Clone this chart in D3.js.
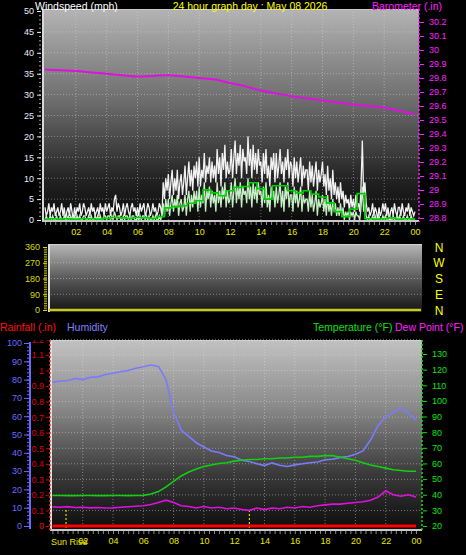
<!DOCTYPE html>
<html><head><meta charset="utf-8">
<script src="https://cdn.jsdelivr.net/npm/d3@7"></script>
<style>body{margin:0;background:#000}svg{display:block;font-family:"Liberation Sans",Arial,sans-serif}</style>
</head><body><svg id="c" width="466" height="555"></svg>
<script>
// ---------------- DATA ----------------
const hourTicks = [2,4,6,8,10,12,14,16,18,20,22,24];
const hourLabels = ["02","04","06","08","10","12","14","16","18","20","22","00"];
const windTicks = [0,5,10,15,20,25,30,35,40,45,50];
const baroTicks = [28.8,28.9,29,29.1,29.2,29.3,29.4,29.5,29.6,29.7,29.8,29.9,30,30.1,30.2];
const dirTicks = [0,90,180,270,360];
const compass = ["N","E","S","W","N"];
const humTicks = [0,10,20,30,40,50,60,70,80,90,100];
const rainTicks = [0,0.1,0.2,0.3,0.4,0.5,0.6,0.7,0.8,0.9,1,1.1,1.2];
const tempTicks = [20,30,40,50,60,70,80,90,100,110,120,130];
const sunEvents = [0.9, 13.0];

// wind gust (mph), 5-minute samples 00:00 .. 24:00
const gust = [
 3,1,2,4,1,3,2,4,1,2,3,1,  2,4,1,3,0,2,3,1,4,2,0,3,  1,3,2,4,1,2,4,3,1,2,3,1,  4,2,3,1,2,3,1,4,2,3,1,4,
 2,3,4,1,3,2,5,6,2,4,3,1,  2,4,1,3,4,2,1,3,4,2,3,1,  3,1,4,2,3,4,1,2,4,3,1,2,  4,2,3,1,2,4,3,1,9,5,10,7,
 11,5,9,12,6,10,7,12,5,9,11,6,  9,13,6,10,14,8,12,7,13,10,14,8,  15,8,12,10,16,9,13,11,15,9,14,10,  13,9,17,11,15,8,16,12,18,10,14,11,
 12,17,10,15,19,11,16,13,18,10,17,14,  15,11,20,13,17,10,18,12,16,11,17,13,  14,9,16,11,17,10,13,8,15,12,16,9,  16,10,13,17,11,14,9,15,12,17,10,14,
 13,8,15,10,14,9,12,15,8,13,10,12,  12,7,14,9,13,8,11,14,7,12,9,11,  14,8,11,6,13,7,10,5,12,6,9,5,  8,4,9,5,7,3,6,4,5,2,6,3,
 5,2,6,3,4,2,8,19,6,9,4,2,  3,1,2,4,1,3,2,0,3,1,2,4,  2,4,1,3,0,2,3,1,4,2,1,3,  3,1,4,2,1,3,2,4,1,3,2,1,  2];
// wind average (mph), 5-minute samples
const avgWind = [
 0,1,0,0,1,0,1,0,0,1,0,0,  1,0,0,1,0,0,1,0,1,0,0,1,  0,1,0,1,0,0,1,1,0,0,1,0,  1,0,0,1,0,1,0,1,0,0,1,1,
 0,1,1,0,1,0,2,1,0,1,1,0,  0,1,0,1,1,0,1,0,1,1,0,0,  1,0,1,0,1,1,0,1,0,1,0,0,  1,0,1,0,0,1,0,1,4,1,5,2,
 5,1,4,6,2,5,3,6,1,4,5,2,  3,6,1,5,7,2,6,3,7,4,7,2,  8,3,6,4,9,2,7,5,8,3,7,4,  6,2,9,4,7,3,8,5,9,3,7,4,
 5,9,3,7,10,4,8,5,9,3,8,6,  7,4,10,5,8,3,9,5,8,4,9,6,  7,3,8,4,9,3,6,2,8,5,7,3,  8,4,6,9,3,7,2,8,5,9,3,6,
 6,2,8,4,7,3,5,8,2,6,4,5,  5,2,7,3,6,2,4,7,1,5,3,4,  6,2,5,1,6,2,4,1,5,2,4,1,  3,1,4,1,3,0,2,1,2,0,2,1,
 2,0,2,1,1,0,3,8,2,4,1,0,  1,0,0,1,0,1,0,0,1,0,0,1,  0,1,0,0,1,0,0,1,0,0,1,0,  1,0,0,1,0,0,1,0,0,1,0,0,  0];
// smoothed average wind (mph), half-hourly
const smoothWind = [0.2,0.3,0.2,0.3,0.2,0.3,0.3,0.2,0.4,0.6,0.5,0.4,0.6,0.5,0.4,0.8,
 2.9,3.2,3.4,4.0,4.6,7.2,6.5,5.8,7.0,7.8,8.0,8.9,7.5,5.0,8.2,8.2,7.0,6.5,7.0,6.2,5.5,4.1,
 2.0,0.8,2.6,6.3,0.3,0.2,0.3,0.5,0.2,0.3,0.2];
// barometer (in), hourly
const baro = [29.86,29.855,29.85,29.84,29.83,29.82,29.81,29.815,29.82,29.81,29.80,29.79,29.765,
 29.74,29.71,29.69,29.67,29.655,29.64,29.625,29.61,29.60,29.59,29.565,29.54];
// wind direction (deg), hourly
const windDir = [0,0,0,0,0,0,0,0,0,0,0,0,0,0,0,0,0,0,0,0,0,0,0,0,0];
// humidity (%), half-hourly
const humidity = [78.5,79.2,79.5,80.6,80,81.2,81.5,82.8,83.5,84.3,85,86.2,87,88,87.2,80,62,52.5,49,45.5,43.2,41,
 40.2,38.5,37.8,36,35.2,34,33,34.5,33.2,32.5,33.4,34,34.6,35,36.2,36.5,37.5,38,39.2,41,47,55,59.5,62,64.5,61.5,58];
// temperature (F), half-hourly
const temperature = [39.5,39.5,39.4,39.4,39.5,39.5,39.4,39.4,39.5,39.5,39.4,39.5,39.6,40.5,42,45,48.5,52,
 54.5,56.5,58,59,60,60.5,61.5,62,62.5,62.5,63,63,63.5,63.5,64,64,64.5,64.5,65,65,64,63,62,60.5,59,58,57,56,55.5,55,55];
// dew point (F), half-hourly
const dewPoint = [32.2,32,32.4,31.8,32,31.6,31.8,31.5,31.6,32,32.3,32.6,33,33.8,35,36.5,35,33,32.5,31.5,32.5,
 31.5,32,31,31.5,30.5,30,31.5,30.5,31.5,31,32,31.5,32.5,32,33,33.5,34,34,34.5,35,35.5,36.5,38.5,42.5,40,39,40,38.5];
// rainfall (in), hourly
const rain = [0,0,0,0,0,0,0,0,0,0,0,0,0,0,0,0,0,0,0,0,0,0,0,0,0];

// ---------------- DRAW ----------------
const svg = d3.select("#c");
const defs = svg.append("defs");
function grad(id, stops){
  const g = defs.append("linearGradient").attr("id",id).attr("x1",0).attr("y1",0).attr("x2",0).attr("y2",1);
  stops.forEach(s=>g.append("stop").attr("offset",s[0]).attr("stop-color",s[1]));
}
grad("gTop",[[0,"#b4b4b4"],[0.45,"#6a6a6a"],[0.8,"#222"],[1,"#0a0a0a"]]);
grad("gMid",[[0,"#b8b8b8"],[0.5,"#5a5a5a"],[1,"#141414"]]);
grad("gBot",[[0,"#c2c2c2"],[0.35,"#8a8a8a"],[0.7,"#3a3a3a"],[1,"#0c0c0c"]]);

const FS = 9;
function styleAxis(g, color, fs){
  g.selectAll("path.domain").remove();
  g.selectAll("line").attr("stroke", color);
  g.selectAll("text").attr("fill", color).style("font-size",(fs||FS)+"px").style("font-family","'Liberation Sans',Arial,sans-serif");
}
const t5 = i => i/12, t30 = i => i/2, t60 = i => i;

// ===== TOP: wind + barometer =====
const xW = d3.scaleLinear([0,24],[45,415]);
const yW = d3.scaleLinear([0,50],[220,11]);
const yB = d3.scaleLinear([28.8,30.2],[218,22]);
const tp = {x0:42,x1:419,y0:9,y1:222};

svg.append("rect").attr("x",tp.x0).attr("y",tp.y0).attr("width",tp.x1-tp.x0).attr("height",tp.y1-tp.y0).attr("fill","url(#gTop)");
const gridTop = svg.append("g").attr("stroke","rgba(220,220,220,0.45)").attr("stroke-dasharray","1,2");
windTicks.slice(1,-1).forEach(v=>gridTop.append("line").attr("x1",tp.x0).attr("x2",tp.x1).attr("y1",yW(v)).attr("y2",yW(v)));
hourTicks.slice(0,-1).forEach(v=>gridTop.append("line").attr("y1",tp.y0).attr("y2",tp.y1).attr("x1",xW(v)).attr("x2",xW(v)));

const lineW5 = d3.line().x((d,i)=>xW(t5(i))).y(d=>yW(d));
svg.append("path").datum(gust).attr("d",lineW5).attr("fill","none").attr("stroke","#f2f2f2").attr("stroke-width",1.3);
svg.append("path").datum(avgWind).attr("d",lineW5).attr("fill","none").attr("stroke","#c4f0c4").attr("stroke-width",1.3);
svg.append("path").datum(smoothWind).attr("d",d3.line().x((d,i)=>xW(t30(i))).y(d=>yW(d)).curve(d3.curveStep)).attr("fill","none").attr("stroke","#00d000").attr("stroke-width",1.6);
svg.append("path").datum(baro).attr("d",d3.line().x((d,i)=>xW(t60(i))).y(d=>yB(d)).curve(d3.curveMonotoneX)).attr("fill","none").attr("stroke","#e010e0").attr("stroke-width",2);

svg.append("line").attr("x1",tp.x0+1).attr("x2",tp.x0+1).attr("y1",tp.y0).attr("y2",tp.y1).attr("stroke","#d8d8d8").attr("stroke-width",2);
svg.append("line").attr("x1",tp.x0).attr("x2",tp.x1).attr("y1",tp.y1-1).attr("y2",tp.y1-1).attr("stroke","#c8c8c8").attr("stroke-width",2);
svg.append("line").attr("x1",tp.x0).attr("x2",tp.x1).attr("y1",tp.y0+0.5).attr("y2",tp.y0+0.5).attr("stroke","#c8c8c8").attr("stroke-width",1);
svg.append("line").attr("x1",tp.x1).attr("x2",tp.x1).attr("y1",tp.y0).attr("y2",tp.y1).attr("stroke","#ff20ff").attr("stroke-width",1.5).attr("stroke-dasharray","2,2");

let g = svg.append("g").attr("transform",`translate(${tp.x0-1},0)`).call(d3.axisLeft(yW).tickValues(d3.range(0,50.1,1)).tickSize(2).tickFormat(""));
styleAxis(g,"#9a9a9a");
g = svg.append("g").attr("transform",`translate(${tp.x0-1},0)`).call(d3.axisLeft(yW).tickValues(windTicks).tickSize(4).tickPadding(3));
styleAxis(g,"#e4ecff");
g = svg.append("g").attr("transform",`translate(${tp.x1+1},0)`).call(d3.axisRight(yB).tickValues(baroTicks).tickSize(4).tickPadding(5).tickFormat(d=>String(+d.toFixed(1))));
styleAxis(g,"#ff20ff");
g = svg.append("g").attr("transform",`translate(0,${tp.y1})`).call(d3.axisBottom(xW).tickValues(d3.range(0,24.01,1/3)).tickSize(3).tickFormat(""));
styleAxis(g,"#8a8a8a");
g = svg.append("g").attr("transform",`translate(0,${tp.y1})`).call(d3.axisBottom(xW).tickValues(hourTicks).tickSize(0).tickPadding(7).tickFormat((d,i)=>hourLabels[i]));
styleAxis(g,"#e8e800");

const TF = "10.5px";
svg.append("text").attr("x",35).attr("y",10).attr("fill","#ffffff").style("font-size",TF).text("Windspeed (mph)");
svg.append("text").attr("x",250).attr("y",10).attr("text-anchor","middle").attr("fill","#ffff00").style("font-size",TF).text("24 hour graph day : May 08 2026");
svg.append("text").attr("x",372).attr("y",10).attr("fill","#ff20ff").style("font-size",TF).text("Barometer (.in)");

// ===== MIDDLE: wind direction =====
const mid = {x0:48,x1:422,y0:244,y1:312};
const xD = d3.scaleLinear([0,24],[mid.x0+1,mid.x1-1]);
const yD = d3.scaleLinear([0,360],[310,247]);
svg.append("rect").attr("x",mid.x0).attr("y",mid.y0).attr("width",mid.x1-mid.x0).attr("height",mid.y1-mid.y0).attr("fill","url(#gMid)");
const gridMid = svg.append("g").attr("stroke","rgba(230,230,230,0.45)").attr("stroke-dasharray","1,2");
[90,180,270].forEach(v=>gridMid.append("line").attr("x1",mid.x0).attr("x2",mid.x1).attr("y1",yD(v)).attr("y2",yD(v)));
svg.append("line").attr("x1",mid.x0+1).attr("x2",mid.x0+1).attr("y1",mid.y0).attr("y2",mid.y1).attr("stroke","#e0e0e0").attr("stroke-width",2);
svg.append("line").attr("x1",mid.x0).attr("x2",mid.x1).attr("y1",mid.y0+0.5).attr("y2",mid.y0+0.5).attr("stroke","#d0d0d0");
svg.append("path").datum(windDir).attr("d",d3.line().x((d,i)=>xD(i)).y(d=>yD(d))).attr("fill","none").attr("stroke","#c8c820").attr("stroke-width",2.5);
g = svg.append("g").attr("transform",`translate(${mid.x0-1},0)`).call(d3.axisLeft(yD).tickValues(d3.range(0,360.1,10)).tickSize(3).tickFormat(""));
styleAxis(g,"#b0b000");
g = svg.append("g").attr("transform",`translate(${mid.x0-1},0)`).call(d3.axisLeft(yD).tickValues(dirTicks).tickSize(4).tickPadding(3));
styleAxis(g,"#dada00");
svg.append("g").selectAll("text").data(dirTicks).join("text")
  .attr("x",439).attr("y",d=>yD(d)+4.5).attr("text-anchor","middle").attr("fill","#ffff00").style("font-size","12px")
  .text((d,i)=>compass[i]);

// ===== BOTTOM: rain, humidity, temperature, dew point =====
const bot = {x0:50,x1:422,y0:340,y1:531};
const xT = d3.scaleLinear([0,24],[52.4,416]);
const yH = d3.scaleLinear([0,100],[526,343]);
const yR = d3.scaleLinear([0,1.2],[526,339.4]);
const yT = d3.scaleLinear([20,130],[526,354]);

svg.append("text").attr("x",0).attr("y",331).attr("fill","#ff1010").style("font-size",TF).text("Rainfall (.in)");
svg.append("text").attr("x",67).attr("y",331).attr("fill","#8080ff").style("font-size",TF).text("Humidity");
svg.append("text").attr("x",313).attr("y",331).attr("fill","#10e010").style("font-size",TF).text("Temperature (°F)");
svg.append("text").attr("x",395).attr("y",331).attr("fill","#ff20ff").style("font-size",TF).text("Dew Point (°F)");

svg.append("rect").attr("x",bot.x0).attr("y",bot.y0).attr("width",bot.x1-bot.x0).attr("height",bot.y1-bot.y0).attr("fill","url(#gBot)");
const gridBot = svg.append("g").attr("stroke","rgba(225,225,225,0.45)").attr("stroke-dasharray","1,2");
rainTicks.slice(1).forEach(v=>gridBot.append("line").attr("x1",bot.x0).attr("x2",bot.x1).attr("y1",yR(v)).attr("y2",yR(v)));
hourTicks.slice(0,-1).forEach(v=>gridBot.append("line").attr("y1",bot.y0).attr("y2",bot.y1).attr("x1",xT(v)).attr("x2",xT(v)));
svg.append("line").attr("x1",bot.x0+1).attr("x2",bot.x0+1).attr("y1",bot.y0).attr("y2",bot.y1).attr("stroke","#e0e0e0").attr("stroke-width",2);
svg.append("line").attr("x1",bot.x0).attr("x2",bot.x1).attr("y1",bot.y1-1).attr("y2",bot.y1-1).attr("stroke","#c8c8c8").attr("stroke-width",2);
svg.append("line").attr("x1",bot.x0).attr("x2",bot.x1).attr("y1",bot.y0+0.5).attr("y2",bot.y0+0.5).attr("stroke","#d0d0d0");

svg.append("g").selectAll("line").data(sunEvents).join("line")
  .attr("x1",d=>xT(d)).attr("x2",d=>xT(d)).attr("y1",510).attr("y2",bot.y1-2)
  .attr("stroke","#ffff00").attr("stroke-width",1).attr("stroke-dasharray","2,2");

svg.append("path").datum(humidity).attr("d",d3.line().x((d,i)=>xT(t30(i))).y(d=>yH(d))).attr("fill","none").attr("stroke","#7a7aff").attr("stroke-width",1.6);
svg.append("path").datum(temperature).attr("d",d3.line().x((d,i)=>xT(t30(i))).y(d=>yT(d))).attr("fill","none").attr("stroke","#10d010").attr("stroke-width",1.6);
svg.append("path").datum(dewPoint).attr("d",d3.line().x((d,i)=>xT(t30(i))).y(d=>yT(d))).attr("fill","none").attr("stroke","#e010e0").attr("stroke-width",1.6);
svg.append("path").datum(rain).attr("d",d3.line().x((d,i)=>xT(t60(i))).y(d=>yR(d))).attr("fill","none").attr("stroke","#ff0000").attr("stroke-width",3);

svg.append("line").attr("x1",bot.x1).attr("x2",bot.x1).attr("y1",bot.y0).attr("y2",bot.y1).attr("stroke","#10e010").attr("stroke-width",1.5).attr("stroke-dasharray","2,2");
g = svg.append("g").attr("transform",`translate(${bot.x1+1},0)`).call(d3.axisRight(yT).tickValues(tempTicks).tickSize(4).tickPadding(5));
styleAxis(g,"#10e010");
svg.append("line").attr("x1",bot.x0).attr("x2",bot.x0).attr("y1",bot.y0).attr("y2",bot.y1).attr("stroke","#ff3030").attr("stroke-width",1.5).attr("stroke-dasharray","2,2");
defs.append("clipPath").attr("id","clipRain").append("rect").attr("x",0).attr("y",bot.y0).attr("width",60).attr("height",200);
g = svg.append("g").attr("clip-path","url(#clipRain)").append("g").attr("transform",`translate(${bot.x0-1},0)`).call(d3.axisLeft(yR).tickValues(rainTicks).tickSize(3).tickPadding(2).tickFormat(d=>String(+d.toFixed(1))));
styleAxis(g,"#dd0000");
g.selectAll("text").filter(d=>d===0).attr("fill","#ff0000");
svg.append("line").attr("x1",30).attr("x2",30).attr("y1",yH(100)-1).attr("y2",yH(0)+3).attr("stroke","#6a6aff").attr("stroke-width",2);
g = svg.append("g").attr("transform","translate(29,0)").call(d3.axisLeft(yH).tickValues(d3.range(0,100.1,2)).tickSize(2).tickFormat(""));
styleAxis(g,"#6a6aff");
g = svg.append("g").attr("transform","translate(29,0)").call(d3.axisLeft(yH).tickValues(humTicks).tickSize(5).tickPadding(2));
styleAxis(g,"#6a6aff");
g = svg.append("g").attr("transform",`translate(0,${bot.y1})`).call(d3.axisBottom(xT).tickValues(d3.range(0,24.01,1/3)).tickSize(3).tickFormat(""));
styleAxis(g,"#8a8a8a");
g = svg.append("g").attr("transform",`translate(0,${bot.y1})`).call(d3.axisBottom(xT).tickValues(hourTicks).tickSize(0).tickPadding(7).tickFormat((d,i)=>hourLabels[i]));
styleAxis(g,"#e8e800");
svg.append("text").attr("x",xT(sunEvents[0])-15).attr("y",bot.y1+13.5).attr("fill","#e8e800").style("font-size","9px").text("Sun Rise");
</script></body></html>
